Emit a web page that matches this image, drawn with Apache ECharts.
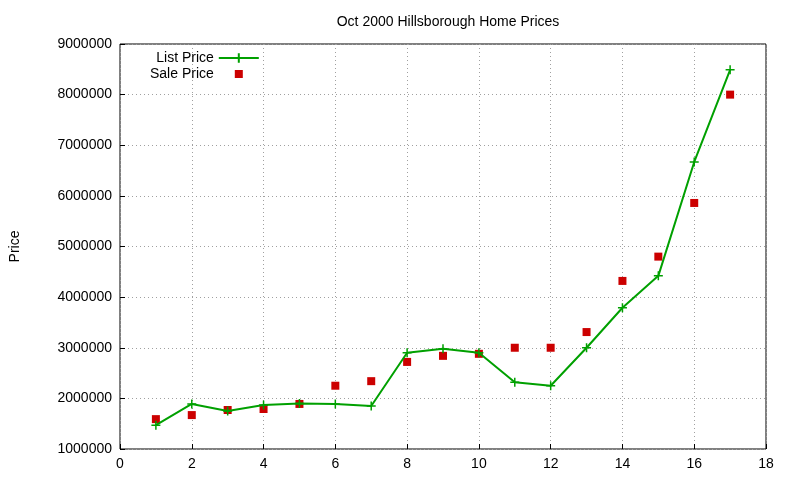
<!DOCTYPE html>
<html><head><meta charset="utf-8">
<script src="https://cdn.jsdelivr.net/npm/echarts@6/dist/echarts.min.js"></script>
<style>html,body{margin:0;padding:0;background:#fff}#c{width:800px;height:480px}</style>
</head><body><div id="c"></div>
<script>
const xs = [1,2,3,4,5,6,7,8,9,10,11,12,13,14,15,16,17];
const listPrice = [1470000,1890000,1750000,1870000,1900000,1890000,1850000,2900000,2980000,2900000,2320000,2250000,3000000,3790000,4420000,6670000,8490000];
const salePrice = [1590000,1670000,1770000,1790000,1890000,2250000,2340000,2720000,2840000,2880000,3000000,3000000,3310000,4320000,4800000,5860000,8000000];
const font = 'Liberation Sans, Arial, sans-serif';
const ch = echarts.init(document.getElementById('c'));
const grid = {lineStyle:{type:[1,3],color:'#a0a0a0'}};
ch.setOption({
  animation:false,
  title:{text:'Oct 2000 Hillsborough Home Prices',left:443,textAlign:'center',top:10,textStyle:{fontFamily:font,fontSize:14,fontWeight:'normal',color:'#000'}},
  legend:{orient:'vertical',left:145,top:46,align:'right',itemGap:2,itemWidth:40,itemHeight:12,
    textStyle:{fontFamily:font,fontSize:14,color:'#000',padding:[0,0,0,0]},
    data:[{name:'List Price'},{name:'Sale Price',icon:'path://M0,0L0.01,0L0,0.01ZM40,12L39.99,12L40,11.99ZM16,2H24V10H16Z'}]},
  grid:{left:120,right:34,top:44,bottom:31,show:true,borderColor:'#000',borderWidth:1},
  xAxis:{type:'value',min:0,max:18,interval:2,axisLine:{show:false},
    axisTick:{inside:true,lineStyle:{color:'#000'}},splitLine:{show:true,...grid},
    axisLabel:{fontFamily:font,fontSize:14,color:'#000',margin:8}},
  yAxis:{type:'value',min:1000000,max:9000000,interval:1000000,axisLine:{show:false},
    axisTick:{show:true,inside:true,lineStyle:{color:'#000'}},splitLine:{show:true,...grid},
    name:'Price',nameLocation:'middle',nameGap:98,nameTextStyle:{fontFamily:font,fontSize:14,color:'#000'},
    axisLabel:{fontFamily:font,fontSize:14,color:'#000',margin:8,formatter:v=>String(v)}},
  series:[
    {name:'List Price',type:'line',data:xs.map((x,i)=>[x,listPrice[i]]),color:'#00a000',
     lineStyle:{width:2,color:'#00a000'},symbol:'path://M5,0V10M0,5H10',symbolSize:9,
     itemStyle:{color:'#00a000',borderColor:'#00a000',borderWidth:1.5}},
    {name:'Sale Price',type:'scatter',data:xs.map((x,i)=>[x,salePrice[i]]),color:'#cc0000',
     symbol:'rect',symbolSize:8,itemStyle:{color:'#cc0000',opacity:1}}
  ]
});
</script></body></html>
